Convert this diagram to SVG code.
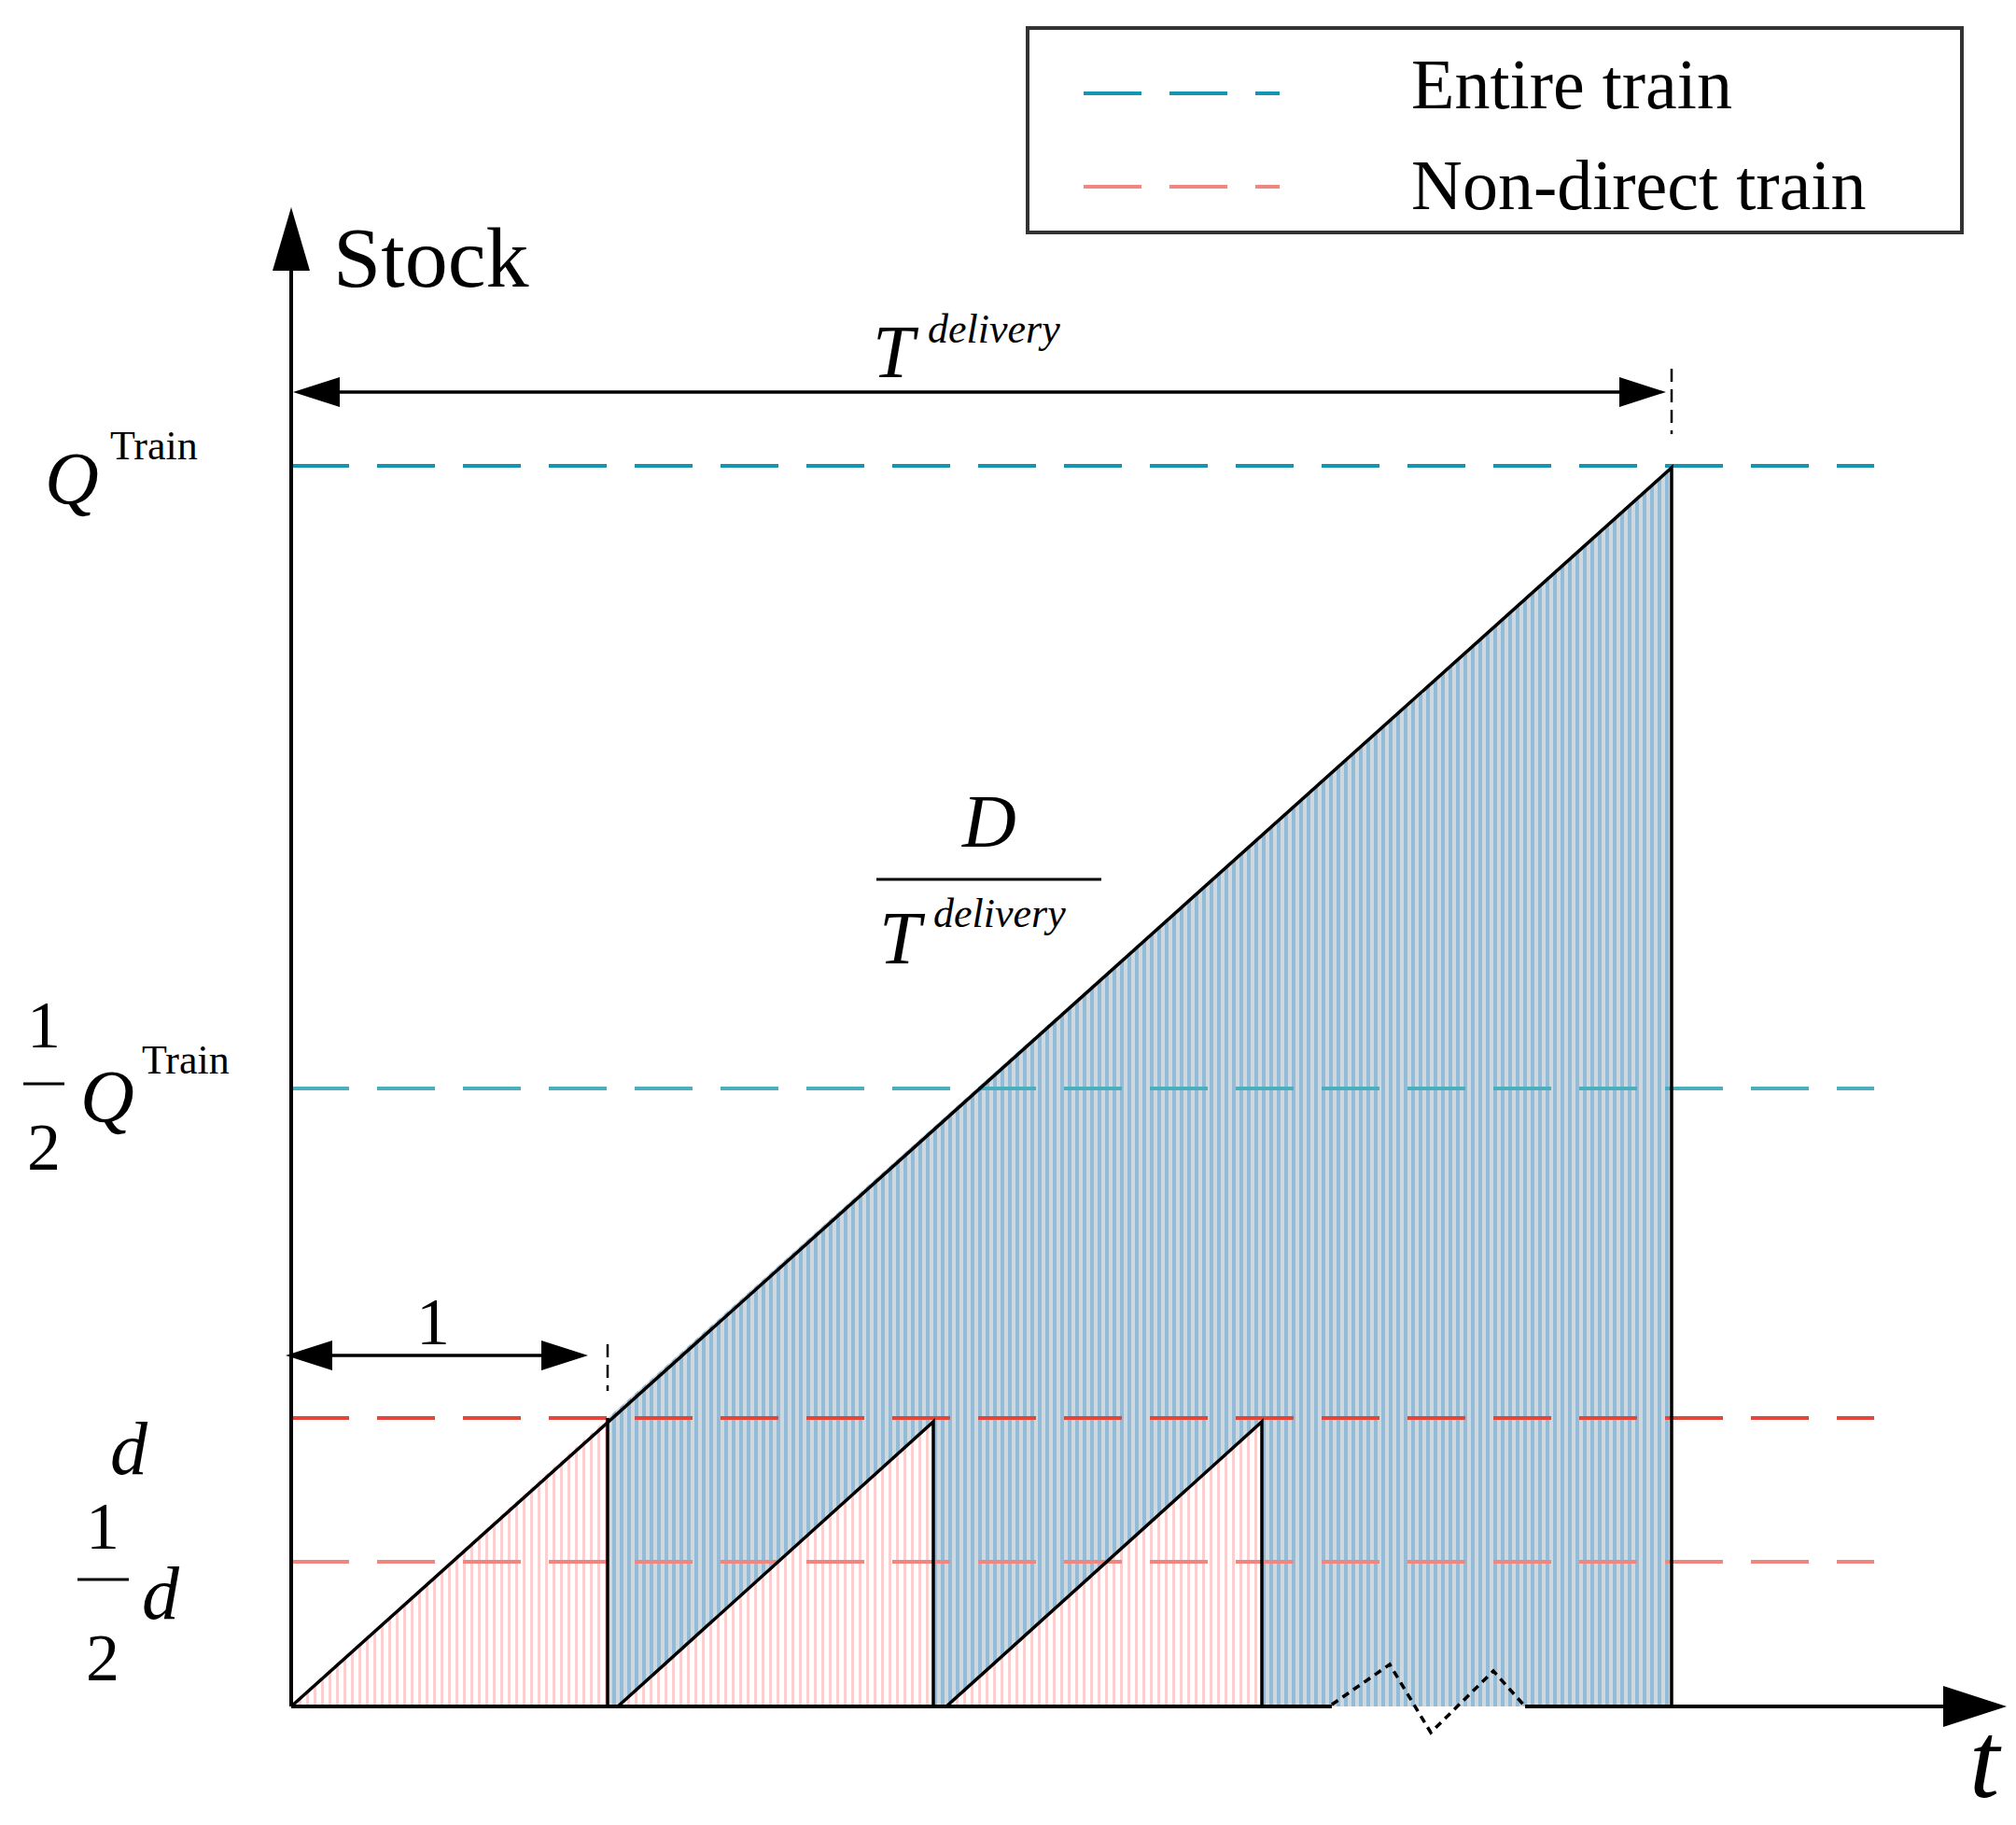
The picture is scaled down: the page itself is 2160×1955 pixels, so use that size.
<svg xmlns="http://www.w3.org/2000/svg" width="2160" height="1955" viewBox="0 0 2160 1955">
<style>
.ser{font-family:"Liberation Serif",serif;fill:#000}
.it{font-style:italic}
.ax{stroke:#000;stroke-width:4;fill:none}
.dash{stroke-width:4;stroke-dasharray:62 30;fill:none}
</style>
<defs>
<pattern id="pb" width="8" height="10" patternUnits="userSpaceOnUse"><rect width="8" height="10" fill="#cfd8de"/><rect width="4" height="10" fill="#92bcd8"/></pattern>
<pattern id="pr" width="8" height="10" patternUnits="userSpaceOnUse"><rect width="8" height="10" fill="#fff"/><rect width="3" height="10" fill="#fbcfcf"/></pattern>
</defs>
<g id="fills">
<polygon points="651,1828 651,1519 1791,501 1791,1828" fill="url(#pb)"/>
<polygon points="312,1828 651,1519 651,1828" fill="url(#pr)"/>
<polygon points="662,1828 1000,1523 1000,1828" fill="url(#pr)"/>
<polygon points="1014,1828 1352,1523 1352,1828" fill="url(#pr)"/>
</g>
<g id="levels">
<line class="dash" x1="312" y1="499" x2="2008" y2="499" stroke="#1496b0"/>
<line class="dash" x1="312" y1="1166" x2="2008" y2="1166" stroke="#4aaebf"/>
<line class="dash" x1="312" y1="1519" x2="2008" y2="1519" stroke="#e5463c"/>
<line class="dash" x1="312" y1="1673" x2="2008" y2="1673" stroke="#ef8680"/>
</g>
<g id="shapes" stroke="#000" stroke-width="3.5" fill="none">
<polyline points="312,1828 1791,501 1791,1828"/>
<line x1="651" y1="1519" x2="651" y2="1828"/>
<polyline points="662,1828 1000,1523 1000,1828"/>
<polyline points="1014,1828 1352,1523 1352,1828"/>
<polyline points="1427,1826 1489,1783 1533,1856 1600,1790 1634,1828" stroke-dasharray="8 6"/>
</g>
<g id="connectors">
<line class="ax" x1="312" y1="1828" x2="312" y2="270"/>
<path d="M312,222l-20,68h40z" fill="#000"/>
<line class="ax" x1="312" y1="1828" x2="1427" y2="1828"/>
<line class="ax" x1="1634" y1="1828" x2="2100" y2="1828"/>
<path d="M2150,1828l-68,-22v44z" fill="#000"/>
<line x1="340" y1="420" x2="1760" y2="420" stroke="#000" stroke-width="3.5"/>
<path d="M314,420l50,-16v32z M1785,420l-50,-16v32z" fill="#000"/>
<line x1="1791" y1="395" x2="1791" y2="465" stroke="#000" stroke-width="2.5" stroke-dasharray="14 8"/>
<line x1="340" y1="1452" x2="610" y2="1452" stroke="#000" stroke-width="3.5"/>
<path d="M306,1452l50,-16v32z M630,1452l-50,-16v32z" fill="#000"/>
<line x1="651" y1="1440" x2="651" y2="1490" stroke="#000" stroke-width="2.5" stroke-dasharray="14 8"/>
</g>
<g id="legend">
<rect x="1101" y="30" width="1001" height="219" fill="#fff" stroke="#333" stroke-width="4"/>
<line class="dash" x1="1161" y1="100" x2="1371" y2="100" stroke="#1496b0" stroke-dasharray="85 40"/>
<line class="dash" x1="1161" y1="200" x2="1371" y2="200" stroke="#ef8680" stroke-dasharray="85 40"/>
<text class="ser" x="1512" y="116" font-size="76">Entire train</text>
<text class="ser" x="1512" y="224" font-size="76">Non-direct train</text>
</g>
<g id="labels">
<text class="ser" x="357" y="307" font-size="92">Stock</text>
<text class="ser it" x="935" y="404" font-size="80">T</text>
<text class="ser it" x="994" y="367" font-size="44">delivery</text>
<text class="ser it" x="48" y="540" font-size="80">Q</text>
<text class="ser" x="118" y="492" font-size="44">Train</text>
<text class="ser" x="47" y="1122" font-size="72" text-anchor="middle">1</text>
<line x1="25" y1="1161" x2="69" y2="1161" stroke="#000" stroke-width="3"/>
<text class="ser" x="47" y="1253" font-size="72" text-anchor="middle">2</text>
<text class="ser it" x="86" y="1202" font-size="80">Q</text>
<text class="ser" x="152" y="1150" font-size="44">Train</text>
<text class="ser it" x="118" y="1579" font-size="80">d</text>
<text class="ser" x="110" y="1659" font-size="72" text-anchor="middle">1</text>
<line x1="83" y1="1692" x2="138" y2="1692" stroke="#000" stroke-width="3"/>
<text class="ser" x="110" y="1800" font-size="72" text-anchor="middle">2</text>
<text class="ser it" x="152" y="1734" font-size="80">d</text>
<text class="ser it" x="1060" y="907" font-size="80" text-anchor="middle">D</text>
<line x1="939" y1="942" x2="1180" y2="942" stroke="#000" stroke-width="3"/>
<text class="ser it" x="942" y="1032" font-size="80">T</text>
<text class="ser it" x="1000" y="993" font-size="44">delivery</text>
<text class="ser" x="464" y="1440" font-size="72" text-anchor="middle">1</text>
<text class="ser it" x="2110" y="1925" font-size="116">t</text>
</g>
</svg>
